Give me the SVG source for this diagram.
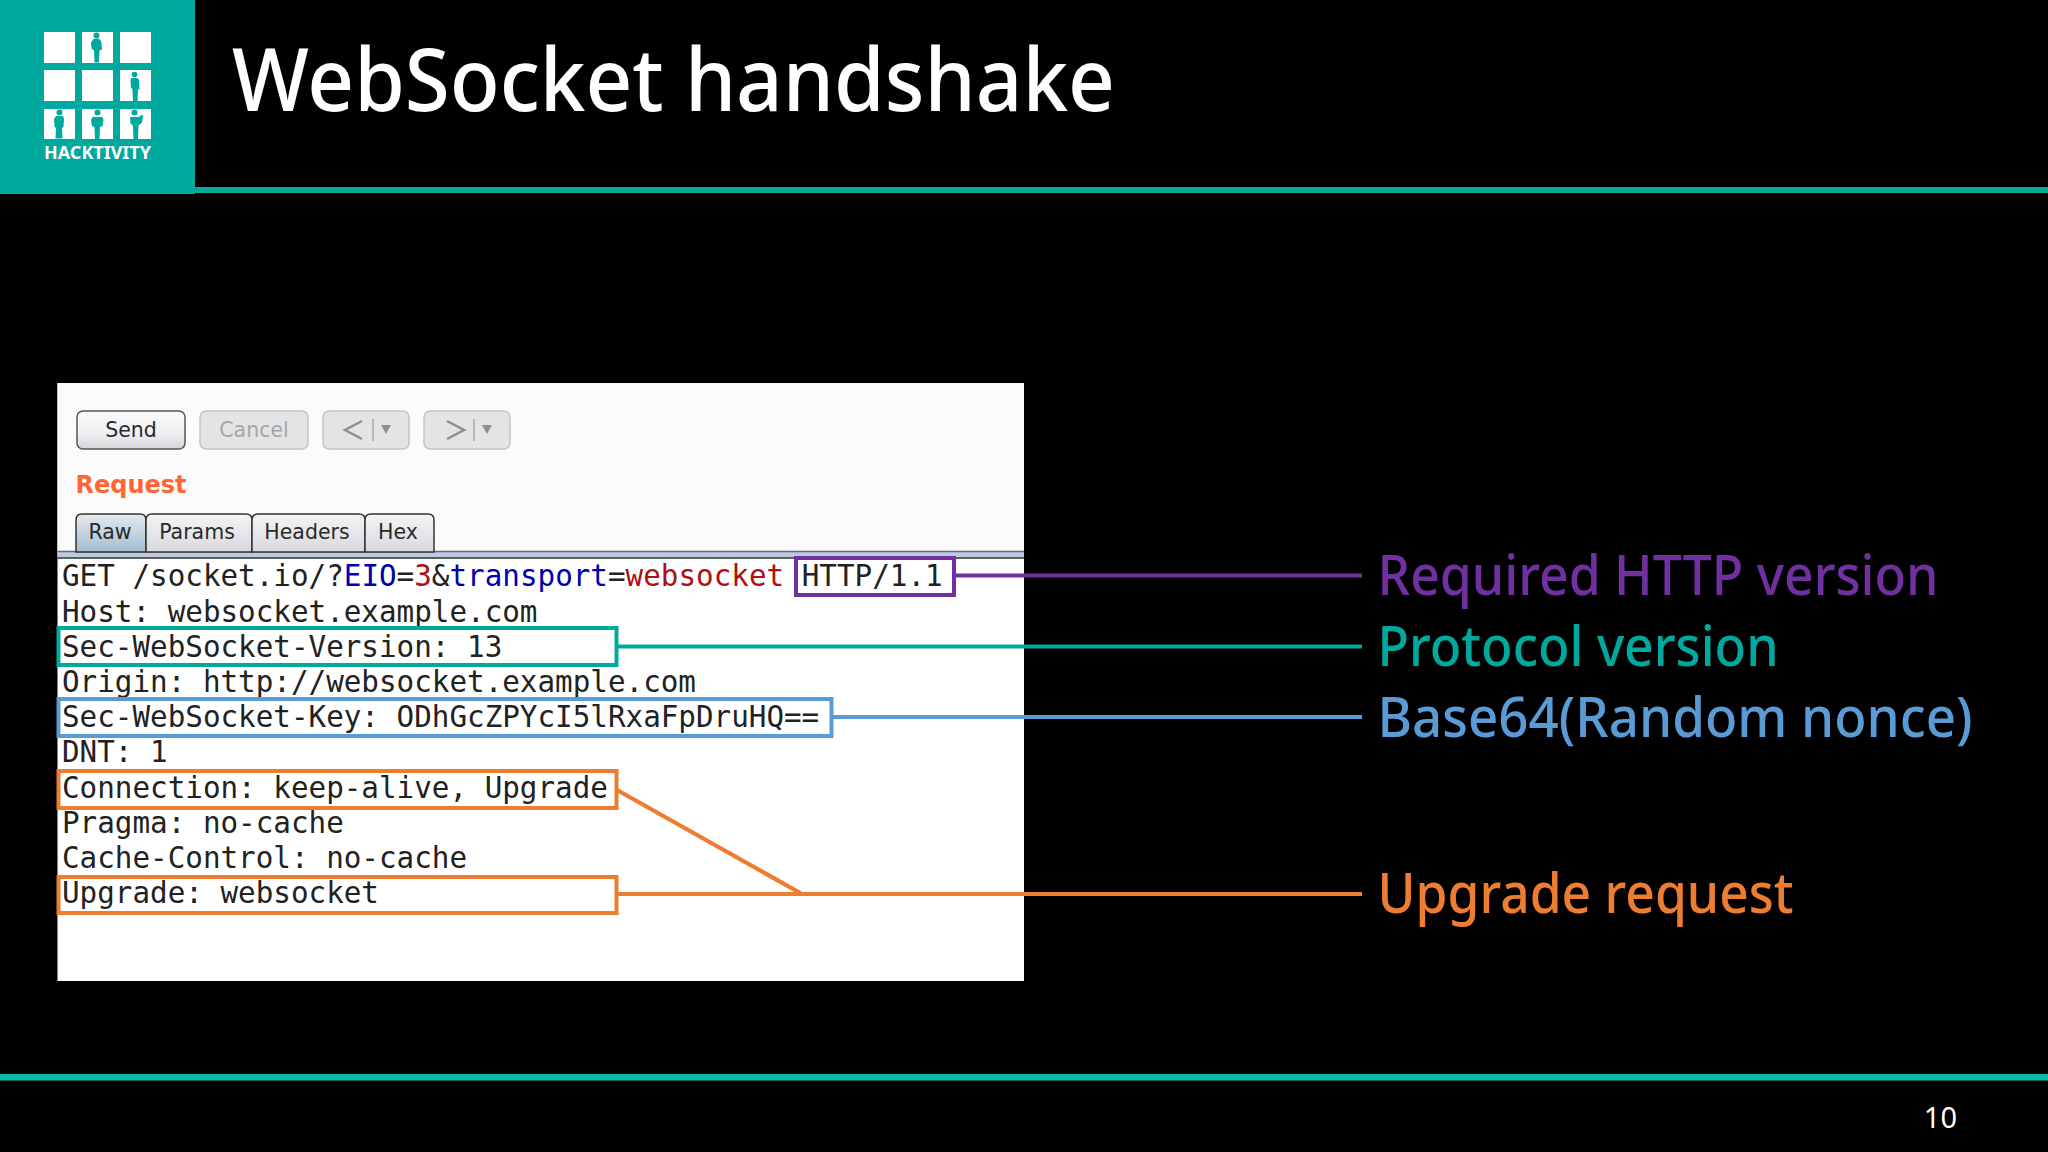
<svg xmlns="http://www.w3.org/2000/svg" width="2048" height="1152" viewBox="0 0 2048 1152">
<defs>
<linearGradient id="btn" x1="0" y1="0" x2="0" y2="1"><stop offset="0" stop-color="#fbfbfc"/><stop offset="0.6" stop-color="#eeeff1"/><stop offset="1" stop-color="#d4d6da"/></linearGradient>
<linearGradient id="tab" x1="0" y1="0" x2="0" y2="1"><stop offset="0" stop-color="#f4f4f6"/><stop offset="1" stop-color="#d8d9de"/></linearGradient>
<linearGradient id="tabA" x1="0" y1="0" x2="0" y2="1"><stop offset="0" stop-color="#e4e9ee"/><stop offset="1" stop-color="#a3bdd2"/></linearGradient>
</defs>
<style>
text{font-family:"Noto Sans","Open Sans",sans-serif}
.m text,text.m{font-family:"DejaVu Sans Mono","Liberation Mono",monospace;font-size:29.25px;fill:#222}
.u{font-family:"DejaVu Sans",sans-serif!important;font-size:20.5px;fill:#2a2a2a}
.lbl{font-size:56px;font-weight:500}
.b{fill:none;stroke-width:4}
.c{fill:none;stroke-width:4.2}
.p{stroke:#7030a0}.t{stroke:#00a99d}.s{stroke:#5b9bd5}.o{stroke:#ed7d31}
.win{fill:#fff}
.sil{fill:#00a99d}
.off{fill:#e3e4e6;stroke:#c4c5c8;stroke-width:1.5}
.tb{fill:url(#tab);stroke:#333;stroke-width:1.5}
</style>
<rect width="2048" height="1152" fill="#000"/>
<g id="header">
<rect x="0" y="0" width="195" height="194" fill="#00a99d"/>
<rect x="195" y="187" width="1853" height="6" fill="#09a99a"/>
<g id="logo">
<rect class="win" x="44" y="32" width="31" height="31"/><rect class="win" x="82" y="32" width="31" height="31"/><rect class="win" x="120" y="32" width="31" height="31"/>
<rect class="win" x="44" y="70" width="31" height="31"/><rect class="win" x="82" y="70" width="31" height="31"/><rect class="win" x="120" y="70" width="31" height="31"/>
<rect class="win" x="44" y="109" width="31" height="30"/><rect class="win" x="82" y="109" width="31" height="30"/><rect class="win" x="120" y="109" width="31" height="30"/>
<g class="sil">
<circle cx="96.500" cy="35.500" r="3"/><path d="M93 39.500q3.500-2 7 0l1.500 3 .5 7-2.500 1-.5 12h-4.500l-.5-12-2.500-2-.5-6z"/>
<circle cx="134.500" cy="74.500" r="2.800"/><path d="M131 78h6.500l1.500 2 .5 9-1.500.5-.5 11.500h-4.500l-.5-11.500-1.500-2-.5-7z"/>
<circle cx="59.500" cy="112.500" r="3"/><path d="M56 116h7l1 3-.5 8-1.500 1 .5 10.500h-7l.5-10.500-1.500-1-.5-8z"/>
<circle cx="97.500" cy="112.500" r="3"/><path d="M92.500 117h10l1 3-1 6-2.500 1-.5 12h-4.500l-.5-12-2.500-1-1-6z"/>
<circle cx="134.500" cy="112.500" r="3"/><path d="M130.500 117h8.500l3-2.500 1 2-1 6-3.500 3-.5 13.500h-4.500l-.5-13-2.500-3-.5-5z"/>
</g>
<text x="97.500" y="158.500" font-size="17" font-weight="700" fill="#fff" text-anchor="middle" textLength="107" lengthAdjust="spacingAndGlyphs">HACKTIVITY</text>
</g>
<text x="232" y="111" font-size="88" font-weight="500" fill="#fff" textLength="883" lengthAdjust="spacingAndGlyphs">WebSocket handshake</text>
</g>
<rect id="footer-rule" x="0" y="1074" width="2048" height="6.500" fill="#08bcaa"/>
<text id="page" x="1957" y="1128" font-size="29" fill="#fff" text-anchor="end">10</text>

<g id="screenshot">
<rect x="57.500" y="383" width="966.500" height="598" fill="#fff"/>
<rect x="57.500" y="383" width="966.500" height="170" fill="#fbfbfc"/>
<g id="btn-send"><rect x="77" y="411" width="108" height="38" rx="6" fill="url(#btn)" stroke="#555" stroke-width="1.500"/><text class="u" x="131" y="437" text-anchor="middle">Send</text></g>
<g id="btn-cancel"><rect class="off" x="200" y="411" width="108" height="38" rx="6"/><text class="u" x="254" y="437" text-anchor="middle" style="fill:#a5a6a8">Cancel</text></g>
<g id="btn-back"><rect class="off" x="323" y="411" width="86" height="38" rx="6"/><path d="M362 421l-17 9 17 9" fill="none" stroke="#8e8f91" stroke-width="2.500"/><path d="M373 419v22" stroke="#aaa" stroke-width="1.500"/><path d="M381 425h10l-5 9z" fill="#8e8f91"/></g>
<g id="btn-forward"><rect class="off" x="424" y="411" width="86" height="38" rx="6"/><path d="M447 421l17 9-17 9" fill="none" stroke="#8e8f91" stroke-width="2.500"/><path d="M474 419v22" stroke="#aaa" stroke-width="1.500"/><path d="M482 425h10l-5 9z" fill="#8e8f91"/></g>
<text id="request" x="75.500" y="493" font-size="24" font-weight="700" fill="#ff6633" style="font-family:'DejaVu Sans',sans-serif">Request</text>
<rect x="57.500" y="551" width="966.500" height="7" fill="#bccbe2"/>
<path d="M57.500 551.500H1024" stroke="#667" stroke-width="1.500"/>
<path d="M57.500 558H1024" stroke="#333" stroke-width="1.500"/>
<g id="tab-raw"><path d="M76 552V520q0-6 6-6h58q6 0 6 6v32z" fill="url(#tabA)" stroke="#333" stroke-width="1.500"/><text class="u" x="110" y="539" text-anchor="middle">Raw</text></g>
<g id="tab-params"><path class="tb" d="M146 552V520q0-6 6-6h94q6 0 6 6v32z"/><text class="u" x="197" y="539" text-anchor="middle">Params</text></g>
<g id="tab-headers"><path class="tb" d="M252 552V520q0-6 6-6h101q6 0 6 6v32z"/><text class="u" x="307" y="539" text-anchor="middle">Headers</text></g>
<g id="tab-hex"><path class="tb" d="M365 552V520q0-6 6-6h57q6 0 6 6v32z"/><text class="u" x="398" y="539" text-anchor="middle">Hex</text></g>
<g class="m" id="request-text">
<text x="62" y="586.300">GET /socket.io/?<tspan fill="#0000b0">EIO</tspan>=<tspan fill="#b01010">3</tspan>&amp;<tspan fill="#0000b0">transport</tspan>=<tspan fill="#b01010">websocket</tspan> HTTP/1.1</text>
<text x="62" y="621.500">Host: websocket.example.com</text>
<text x="62" y="656.700">Sec-WebSocket-Version: 13</text>
<text x="62" y="691.900">Origin: http://websocket.example.com</text>
<text x="62" y="727.100">Sec-WebSocket-Key: ODhGcZPYcI5lRxaFpDruHQ==</text>
<text x="62" y="762.300">DNT: 1</text>
<text x="62" y="797.500">Connection: keep-alive, Upgrade</text>
<text x="62" y="832.700">Pragma: no-cache</text>
<text x="62" y="867.900">Cache-Control: no-cache</text>
<text x="62" y="903.100">Upgrade: websocket</text>
</g>
</g>

<g id="highlights">
<rect class="b p" x="796" y="558" width="158" height="37"/>
<rect class="b t" x="58.500" y="628" width="558" height="37"/>
<rect class="b s" x="58.500" y="699" width="773" height="37"/>
<rect class="b o" x="58.500" y="771" width="558" height="37"/>
<rect class="b o" x="58.500" y="877" width="558" height="36"/>
</g>

<g id="connectors">
<path class="c p" d="M954 575.500H1362"/>
<path class="c t" d="M617 646.500H1362"/>
<path class="c s" d="M832 717H1362"/>
<path class="c o" d="M616 894H1362"/>
<path class="c o" d="M617 790L802 894"/>
</g>

<g id="labels">
<text class="lbl" x="1377.500" y="595" fill="#7030a0" textLength="561" lengthAdjust="spacingAndGlyphs">Required HTTP version</text>
<text class="lbl" x="1377.500" y="666" fill="#00a99d" textLength="401" lengthAdjust="spacingAndGlyphs">Protocol version</text>
<text class="lbl" x="1377.500" y="737" fill="#5b9bd5" textLength="595" lengthAdjust="spacingAndGlyphs">Base64(Random nonce)</text>
<text class="lbl" x="1377.500" y="913" fill="#ed7d31" textLength="416" lengthAdjust="spacingAndGlyphs">Upgrade request</text>
</g>
</svg>
